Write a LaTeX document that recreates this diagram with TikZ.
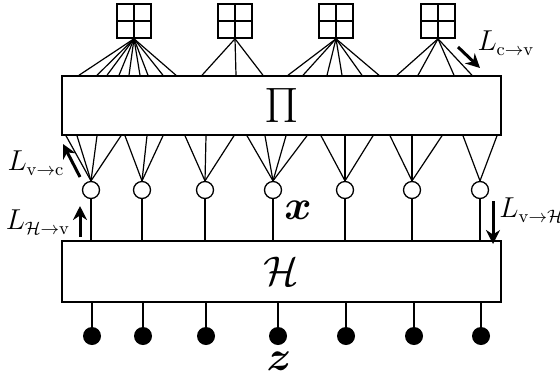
\documentclass[tikz,border=0pt]{standalone}
\usepackage{amsmath}
\usetikzlibrary{arrows.meta,calc}
\begin{document}
\begin{tikzpicture}[x=0.5pt,y=-0.5pt,
  edge/.style={line width=0.6pt},
  box/.style={draw, line width=0.75pt, inner sep=0pt},
  chk/.style={draw, line width=0.8pt, minimum size=17pt, inner sep=0pt,
    path picture={\draw[line width=0.8pt] (path picture bounding box.north) -- (path picture bounding box.south)
      (path picture bounding box.west) -- (path picture bounding box.east);}},
  var/.style={circle, draw, fill=white, line width=0.65pt, minimum size=8.5pt, inner sep=0pt},
  obs/.style={circle, fill=black, minimum size=9pt, inner sep=0pt},
  msg/.style={line width=1.5pt, -{Stealth[length=7pt,width=7pt]}},
  lab/.style={font=\fontsize{13.5}{16}\selectfont, inner sep=0pt}]
\useasboundingbox (0,0) rectangle (560,381);

% boxes
\node[box, minimum width=219.5pt, minimum height=29.5pt] (P) at (281.5,105.5) {\fontsize{24}{28}\selectfont$\Pi$};
\node[box, minimum width=219.5pt, minimum height=30.5pt] (H) at (281.5,271.5) {\huge$\mathcal{H}$};

% check nodes
\node[chk] (c1) at (134,21) {};
\node[chk] (c2) at (235,21) {};
\node[chk] (c3) at (336,21) {};
\node[chk] (c4) at (438,21) {};

% variable nodes
\foreach \i/\x in {1/91,2/142,3/205,4/273,5/345,6/412,7/480}
  \node[var] (v\i) at (\x,190) {};

% observed nodes
\foreach \i/\x in {1/92,2/143,3/206,4/278,5/346,6/414,7/481}
  \node[obs] (z\i) at (\x,336) {};

% check -> Pi edges
\foreach \x in {79,97,107,119,129,140,148,163,176}
  \draw[edge] (c1.south) -- (\x,0 |- P.north);
\foreach \x in {202,236,263}
  \draw[edge] (c2.south) -- (\x,0 |- P.north);
\foreach \x in {288,303,327,342,362,379}
  \draw[edge] (c3.south) -- (\x,0 |- P.north);
\foreach \x in {397,418,454,472}
  \draw[edge] (c4.south) -- (\x,0 |- P.north);

% Pi -> variable edges
\foreach \x in {66,77,97,121}
  \draw[edge] (v1.north) -- (\x,0 |- P.south);
\foreach \x in {125,147,163}
  \draw[edge] (v2.north) -- (\x,0 |- P.south);
\foreach \x in {185,206,234}
  \draw[edge] (v3.north) -- (\x,0 |- P.south);
\foreach \x in {247,265,286,307}
  \draw[edge] (v4.north) -- (\x,0 |- P.south);
\foreach \x in {321,345,373}
  \draw[edge] (v5.north) -- (\x,0 |- P.south);
\foreach \x in {390,412,442}
  \draw[edge] (v6.north) -- (\x,0 |- P.south);
\foreach \x in {463,497}
  \draw[edge] (v7.north) -- (\x,0 |- P.south);

% variable -> H, H -> observed
\foreach \i in {1,...,7} {
  \draw[edge] (v\i.south) -- (v\i.south |- H.north);
  \draw[edge] (z\i.north) -- (z\i.north |- H.south);
}

% labels
\node at (298,210) {\huge$\boldsymbol{x}$};
\node at (279,361) {\huge$\boldsymbol{z}$};

\node[lab] (lcv) at (506,43) {$L_{\mathrm{c}\to\mathrm{v}}$};
\node[lab] (lvc) at (36,163) {$L_{\mathrm{v}\to\mathrm{c}}$};
\node[lab] (lhv) at (38,222) {$L_{\mathcal{H}\to\mathrm{v}}$};
\node[lab, anchor=west] (lvh) at (499,210) {$L_{\mathrm{v}\to\mathcal{H}}$};

% message arrows
\coordinate (a1s) at (458,47);  \coordinate (a1e) at (480,68);
\coordinate (a2s) at (80,177);  \coordinate (a2e) at (63,144);
\coordinate (a3s) at (80,237);  \coordinate (a3e) at (80,206);
\coordinate (a4s) at (493,201); \coordinate (a4e) at (493,244);
\draw[msg] (a1s) -- (a1e);
\draw[msg] (a2s) -- (a2e);
\draw[msg] (a3s) -- (a3e);
\draw[msg] (a4s) -- (a4e);
\end{tikzpicture}
\end{document}
